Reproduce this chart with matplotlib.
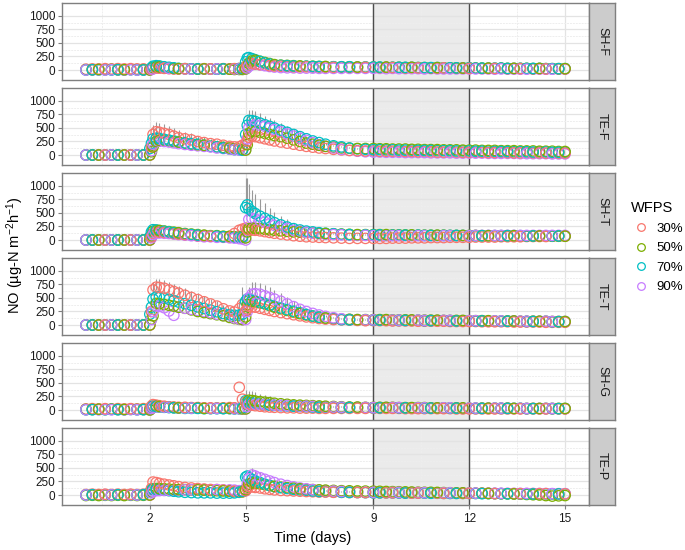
import numpy as np
import matplotlib
matplotlib.use('Agg')
import matplotlib.pyplot as plt
from matplotlib.lines import Line2D

plt.rcParams['font.family'] = ['Liberation Sans', 'DejaVu Sans']
plt.rcParams['mathtext.fontset'] = 'custom'
plt.rcParams['mathtext.rm'] = 'Liberation Sans'
plt.rcParams['mathtext.it'] = 'Liberation Sans:italic'

# sampling times (days), shared by all series
times = [0, 0.2, 0.4, 0.6, 0.8, 1.0, 1.2, 1.4, 1.6, 1.8,
         2.0, 2.05, 2.1, 2.2, 2.3, 2.45, 2.6, 2.75, 2.9, 3.1, 3.3, 3.5, 3.7, 3.9, 4.1, 4.3, 4.5, 4.65, 4.8, 4.9,
         5.0, 5.05, 5.1, 5.2, 5.3, 5.45, 5.6, 5.75, 5.9, 6.1, 6.3, 6.5, 6.7, 6.9, 7.1, 7.3, 7.5, 7.75, 8.0,
         8.25, 8.5, 8.75,
         9.0, 9.2, 9.4, 9.6, 9.8, 10.0, 10.2, 10.4, 10.6, 10.8, 11.0, 11.2, 11.4, 11.6, 11.8, 12.0,
         12.2, 12.4, 12.6, 12.8, 13.0, 13.2, 13.4, 13.6, 13.8, 14.0, 14.2, 14.4, 14.6, 14.8, 15.0]

wfps = ['30%', '50%', '70%', '90%']
facets = ['SH-F', 'TE-F', 'SH-T', 'TE-T', 'SH-G', 'TE-P']

# NO flux (ug-N m-2 h-1), one list per soil / WFPS level
shf_30 = [15, 20, 20, 25, 20, 25, 20, 25, 20, 20,
          10, 20, 30, 40, 35, 30, 25, 20, 20, 25, 20, 20, 25, 20, 20, 25, 20, 25, 30, 35,
          40, 90, 130, 120, 110, 100, 90, 80, 75, 70, 65, 60, 60, 60, 55, 55, 55, 50, 50, 50, 50, 50,
          50, 45, 50, 45, 45, 40, 45, 40, 40, 40, 35, 40, 35, 35, 35, 30, 35, 30, 30, 30, 30, 25, 30, 25,
          25, 25, 25, 20, 20, 20, 20]
shf_50 = [5, 5, 10, 5, 10, 5, 5, 10, 5, 5,
          0, 20, 40, 60, 55, 45, 40, 30, 25, 20, 20, 15, 20, 20, 15, 20, 15, 10, 10, 10,
          20, 60, 120, 170, 180, 160, 140, 120, 100, 90, 85, 80, 75, 70, 70, 65, 65, 60, 60, 60, 55, 55,
          55, 50, 55, 50, 50, 45, 50, 45, 45, 40, 45, 40, 40, 40, 35, 40, 35, 35, 35, 30, 35, 30, 30, 30,
          30, 25, 30, 25, 25, 25, 25]
shf_70 = [0, 5, 0, 5, 0, 5, 0, 5, 0, 0,
          10, 40, 70, 80, 75, 60, 50, 40, 30, 25, 20, 20, 20, 15, 15, 20, 15, 20, 25, 30,
          150, 220, 230, 210, 190, 160, 130, 110, 95, 85, 80, 75, 70, 70, 65, 65, 60, 60, 60, 60, 55, 55,
          55, 55, 50, 50, 50, 50, 50, 45, 45, 45, 45, 40, 40, 40, 40, 40, 35, 35, 35, 35, 35, 30, 30, 30,
          30, 30, 30, 25, 25, 25, 25]
shf_90 = [0, 0, 5, 0, 5, 0, 0, 5, 0, 0,
          0, 10, 20, 35, 40, 35, 30, 25, 20, 20, 15, 20, 15, 15, 20, 15, 15, 20, 20, 20,
          20, 40, 70, 100, 110, 95, 80, 65, 55, 45, 40, 40, 35, 35, 35, 30, 30, 30, 30, 30, 30, 30,
          30, 30, 25, 30, 25, 25, 25, 25, 20, 25, 20, 20, 20, 20, 20, 20, 20, 20, 20, 15, 20, 15, 15, 15,
          15, 15, 15, 15, 15, 15, 15]

tef_30 = [0, 0, 0, 0, 0, 0, 0, 0, 0, 0,
          0, 150, 380, 430, 420, 400, 380, 350, 320, 300, 280, 250, 230, 210, 200, 180, 160, 150, 150, 180,
          200, 260, 330, 350, 340, 320, 300, 280, 260, 240, 220, 200, 180, 160, 145, 130, 120, 105, 95, 85,
          80, 75,
          75, 70, 70, 70, 65, 65, 65, 60, 60, 60, 55, 55, 55, 55, 50, 50, 50, 50, 45, 45, 45, 45, 40, 40,
          40, 40, 40, 35, 35, 35, 35]
tef_50 = [0, 0, 0, 0, 0, 0, 0, 0, 0, 0,
          0, 60, 150, 250, 270, 265, 260, 250, 240, 220, 200, 190, 180, 160, 150, 140, 130, 115, 105, 100,
          90, 190, 400, 440, 435, 420, 400, 380, 360, 340, 310, 280, 250, 220, 200, 180, 160, 145, 130, 125,
          120, 120,
          120, 115, 115, 110, 110, 110, 105, 105, 100, 100, 100, 95, 95, 95, 90, 90, 90, 85, 85, 85, 80, 80,
          80, 75, 75, 75, 70, 70, 70, 65, 65]
tef_70 = [0, 0, 0, 0, 0, 0, 0, 0, 0, 0,
          120, 215, 300, 310, 305, 290, 275, 260, 240, 225, 210, 200, 180, 160, 150, 130, 110, 100, 95, 90,
          380, 550, 640, 635, 620, 590, 560, 530, 500, 460, 420, 380, 340, 300, 260, 230, 200, 170, 150, 130,
          115, 105,
          100, 100, 95, 95, 90, 90, 90, 85, 85, 85, 80, 80, 80, 75, 75, 75, 70, 70, 70, 65, 65, 65, 60, 60,
          60, 55, 55, 55, 50, 50, 50]
tef_90 = [0, 0, 0, 0, 0, 0, 0, 0, 0, 0,
          0, 80, 200, 250, 255, 250, 240, 225, 210, 195, 180, 170, 160, 150, 130, 120, 110, 100, 95, 90,
          100, 300, 500, 540, 560, 550, 530, 500, 470, 430, 390, 350, 310, 270, 230, 190, 160, 130, 105, 85,
          70, 60,
          55, 55, 50, 50, 50, 45, 45, 45, 45, 40, 40, 40, 40, 35, 35, 35, 35, 35, 30, 30, 30, 30, 30, 25,
          25, 25, 25, 25, 20, 20, 20]

sht_30 = [0, 0, 0, 0, 0, 0, 0, 0, 0, 0,
          0, 60, 120, 150, 145, 140, 130, 120, 110, 100, 90, 80, 80, 70, 70, 60, 60, 120, 180, 200,
          220, 200, 190, 185, 180, 170, 155, 140, 125, 110, 95, 80, 70, 60, 55, 50, 45, 40, 35, 30,
          30, 30,
          30, 30, 30, 35, 35, 35, 40, 40, 40, 45, 45, 45, 50, 50, 50, 50, 55, 55, 55, 55, 60, 60, 60, 60,
          65, 65, 65, 65, 70, 70, 70]
sht_50 = [0, 0, 0, 0, 0, 0, 0, 0, 0, 0,
          0, 80, 160, 180, 175, 165, 155, 145, 135, 120, 110, 100, 90, 80, 80, 70, 70, 60, 60, 60,
          40, 150, 210, 220, 215, 210, 200, 190, 180, 170, 160, 150, 145, 140, 130, 125, 120, 115, 110, 105,
          100, 100,
          100, 100, 100, 95, 95, 95, 95, 90, 90, 90, 90, 90, 85, 85, 85, 85, 85, 80, 80, 80, 80, 80,
          80, 75, 75, 75, 75, 75, 70, 70, 70]
sht_70 = [0, 0, 0, 0, 0, 0, 0, 0, 0, 0,
          60, 150, 190, 185, 175, 160, 150, 135, 125, 110, 100, 90, 80, 70, 70, 60, 60, 50, 50, 50,
          600, 650, 580, 530, 490, 440, 400, 360, 320, 280, 240, 210, 185, 165, 150, 135, 125, 115, 105, 100,
          95, 95,
          95, 95, 90, 90, 90, 90, 90, 90, 85, 85, 85, 85, 85, 85, 85, 80, 80, 80, 80, 80, 80, 80, 80, 80,
          75, 75, 75, 75, 75, 75, 75]
sht_90 = [0, 0, 0, 0, 0, 0, 0, 0, 0, 0,
          0, 40, 100, 130, 130, 125, 120, 110, 100, 90, 80, 70, 60, 60, 50, 50, 40, 35, 25, 20,
          0, 200, 380, 400, 390, 360, 330, 300, 270, 240, 210, 180, 160, 140, 125, 115, 105, 100, 95, 90,
          85, 85,
          80, 80, 80, 80, 80, 80, 80, 80, 80, 80, 80, 80, 80, 80, 80, 80, 85, 85, 85, 85, 85, 85, 85, 85,
          85, 85, 85, 85, 85, 85, 85]

tet_30 = [0, 0, 0, 0, 0, 0, 0, 0, 0, 0,
          0, 250, 650, 700, 695, 680, 650, 620, 590, 550, 510, 470, 430, 390, 350, 300, 260, 240, 300, 380,
          260, 300, 350, 340, 330, 310, 290, 270, 250, 230, 210, 190, 170, 150, 135, 120, 110, 100, 95, 90,
          85, 80,
          80, 80, 80, 75, 75, 75, 75, 70, 70, 70, 70, 70, 65, 65, 65, 65, 65, 60, 60, 60, 60, 60, 55, 55,
          55, 55, 55, 50, 50, 50, 50]
tet_50 = [0, 0, 0, 0, 0, 0, 0, 0, 0, 0,
          0, 110, 170, 400, 395, 380, 365, 350, 330, 310, 280, 250, 230, 210, 190, 170, 140, 120, 105, 100,
          150, 380, 450, 440, 430, 410, 390, 360, 330, 300, 270, 240, 210, 185, 165, 145, 130, 120, 110, 105,
          100, 100,
          100, 100, 100, 95, 95, 95, 95, 90, 90, 90, 90, 85, 85, 85, 85, 80, 80, 80, 80, 75, 75, 75, 75, 70,
          70, 70, 70, 70, 65, 65, 65]
tet_70 = [0, 0, 0, 0, 0, 0, 0, 0, 0, 0,
          200, 330, 480, 520, 510, 495, 475, 450, 425, 395, 365, 335, 305, 275, 245, 215, 190, 180, 185, 200,
          440, 480, 470, 455, 440, 420, 395, 370, 345, 315, 285, 255, 225, 195, 165, 145, 125, 110, 100, 95,
          90, 90,
          90, 90, 90, 85, 85, 85, 85, 85, 80, 80, 80, 80, 80, 75, 75, 75, 75, 75, 70, 70, 70, 70, 70, 65,
          65, 65, 65, 65, 60, 60, 60]
tet_90 = [0, 0, 0, 0, 0, 0, 0, 0, 0, 0,
          0, 100, 250, 350, 345, 320, 260, 180, 330, 310, 290, 270, 250, 230, 200, 180, 150, 130, 110, 100,
          100, 250, 500, 570, 580, 570, 540, 510, 480, 440, 390, 340, 290, 250, 215, 185, 160, 135, 115, 105,
          100, 95,
          95, 95, 95, 90, 90, 90, 90, 90, 85, 85, 85, 85, 85, 80, 80, 80, 80, 80, 75, 75, 75, 75, 75, 70,
          70, 70, 70, 70, 65, 65, 65]

shg_30 = [20, 25, 20, 25, 20, 25, 20, 25, 20, 25,
          30, 70, 100, 90, 80, 70, 60, 55, 50, 50, 45, 45, 40, 40, 40, 40, 45, 40, 420, 200,
          150, 120, 100, 90, 80, 70, 60, 55, 50, 45, 40, 40, 35, 35, 35, 30, 30, 30, 30, 30,
          30, 30,
          30, 30, 30, 30, 30, 25, 25, 25, 25, 25, 25, 25, 25, 20, 20, 20, 20, 20, 20, 20, 20, 20, 20, 20,
          20, 20, 20, 20, 20, 20, 20]
shg_50 = [10, 10, 15, 10, 15, 10, 10, 15, 10, 10,
          0, 40, 60, 70, 65, 55, 50, 45, 40, 40, 35, 35, 30, 30, 30, 30, 30, 30, 25, 20,
          20, 100, 180, 175, 165, 155, 145, 135, 125, 115, 105, 95, 90, 85, 80, 75, 70, 65, 60, 55,
          55, 50,
          50, 50, 50, 50, 45, 45, 45, 45, 45, 40, 40, 40, 40, 40, 40, 35, 35, 35, 35, 35, 35, 35, 30, 30,
          30, 30, 30, 30, 30, 30, 30]
shg_70 = [5, 5, 10, 5, 10, 5, 5, 10, 5, 5,
          10, 50, 70, 65, 55, 50, 45, 40, 35, 30, 30, 30, 25, 25, 25, 25, 25, 20, 25, 40,
          170, 150, 140, 130, 120, 110, 100, 90, 85, 80, 75, 70, 65, 60, 55, 50, 50, 45, 45, 45,
          40, 40,
          40, 40, 40, 40, 40, 40, 35, 35, 35, 35, 35, 35, 35, 35, 30, 30, 30, 30, 30, 30, 30, 30, 30, 30,
          25, 25, 25, 25, 25, 25, 25]
shg_90 = [5, 10, 5, 10, 5, 10, 5, 10, 5, 10,
          0, 30, 50, 60, 58, 55, 50, 45, 40, 40, 35, 35, 35, 30, 30, 30, 30, 25, 25, 20,
          20, 60, 100, 110, 108, 104, 100, 95, 90, 85, 80, 76, 72, 70, 66, 62, 58, 55, 52, 50,
          48, 46,
          45, 45, 45, 45, 45, 40, 40, 40, 40, 40, 40, 40, 40, 40, 35, 35, 35, 35, 35, 35, 35, 35, 30, 30,
          30, 30, 30, 30, 30, 25, 25]

tep_30 = [10, 15, 10, 15, 10, 15, 10, 15, 10, 15,
          0, 120, 240, 230, 215, 200, 185, 170, 155, 140, 130, 120, 110, 100, 100, 90, 80, 70, 65, 60,
          80, 120, 160, 150, 140, 130, 115, 105, 95, 85, 80, 75, 70, 65, 60, 55, 55, 50, 50, 45,
          45, 45,
          40, 40, 40, 40, 40, 35, 35, 35, 35, 35, 35, 30, 30, 30, 30, 30, 30, 30, 30, 25, 25, 25, 25, 25,
          25, 25, 25, 25, 20, 20, 20]
tep_50 = [-10, -5, -10, -5, -10, -5, -10, -5, -10, -5,
          0, 60, 110, 120, 118, 115, 110, 105, 100, 100, 95, 95, 90, 85, 80, 75, 70, 65, 60, 60,
          100, 150, 200, 230, 220, 205, 190, 175, 160, 145, 135, 125, 115, 105, 100, 95, 90, 85, 80, 78,
          75, 72,
          70, 68, 65, 62, 60, 58, 55, 52, 50, 50, 48, 45, 42, 40, 40, 38, 35, 32, 30, 28, 25, 22, 20, 15,
          10, 5, 0, -10, -20, -15, -10]
tep_70 = [0, 5, 0, 5, 0, 5, 0, 5, 0, 5,
          50, 100, 110, 105, 100, 90, 80, 70, 60, 50, 45, 40, 40, 40, 35, 35, 35, 40, 50, 70,
          330, 350, 320, 290, 260, 230, 200, 175, 155, 135, 120, 105, 95, 85, 75, 65, 60, 55, 50, 48,
          45, 42,
          40, 40, 40, 38, 38, 35, 35, 35, 35, 32, 32, 30, 30, 30, 30, 28, 28, 25, 25, 25, 25, 22, 22, 22,
          20, 20, 20, 20, 20, 20, 20]
tep_90 = [0, 5, 0, 5, 0, 5, 0, 5, 0, 5,
          0, 40, 70, 80, 82, 84, 86, 90, 92, 95, 98, 100, 100, 100, 100, 95, 95, 90, 80, 70,
          80, 200, 300, 370, 350, 320, 290, 260, 230, 200, 175, 150, 130, 115, 100, 90, 80, 72, 65, 60,
          56, 52,
          50, 50, 50, 48, 48, 45, 45, 45, 43, 42, 40, 40, 40, 38, 38, 36, 35, 35, 34, 33, 32, 31, 30, 30,
          30, 28, 28, 27, 26, 25, 25]

# standard errors, only where bars are visible (first 10 + 20 points are days 0-4.9)
zero_err = [0] * 83
shf_err70 = [0] * 30 + [60, 70, 50, 35, 25, 20, 15, 10, 10] + [0] * 44
tef_err30 = [0] * 10 + [0, 60, 170, 180, 175, 170, 160, 150, 140, 130, 120, 110, 100, 90, 80, 70, 60, 50,
                        40, 30] + [0] * 53
tef_err70 = [0] * 30 + [100, 180, 200, 195, 190, 180, 170, 160, 150, 135, 120, 100, 80, 60, 45, 35, 25,
                        20, 15, 10, 10, 10] + [0] * 31
sht_err50 = [0] * 10 + [0, 30, 50, 50, 45, 40, 30, 20, 15, 10] + [0] * 63
sht_err70 = [0] * 30 + [550, 500, 450, 400, 360, 320, 280, 240, 200, 170, 140, 110, 85, 65, 50, 40, 30,
                        20, 15, 10, 10, 10] + [0] * 31
tet_err30 = [0] * 10 + [0, 80, 150, 160, 155, 150, 145, 140, 135, 130, 125, 115, 105, 95, 85, 75, 65, 55,
                        150, 320] + [0] * 53
tet_err90 = [0] * 30 + [0, 100, 200, 230, 225, 215, 200, 185, 170, 150, 125, 100, 80, 60, 45, 35, 25,
                        20, 15, 10, 10, 10] + [0] * 31
shg_err50 = [0] * 30 + [0, 120, 180, 170, 160, 145, 130, 115, 100, 85, 70, 55, 40, 30, 20, 15, 10, 10,
                        5, 5, 5, 5] + [0] * 31
shg_err70 = [0] * 30 + [200, 60, 40, 20, 10] + [0] * 48
tep_err90 = [0] * 30 + [0, 80, 150, 130, 115, 100, 85, 70, 55, 45, 35, 25, 20, 15, 10, 5, 5, 5, 5, 5,
                        5, 5] + [0] * 31

series = {
    'SH-F': [shf_30, shf_50, shf_70, shf_90],
    'TE-F': [tef_30, tef_50, tef_70, tef_90],
    'SH-T': [sht_30, sht_50, sht_70, sht_90],
    'TE-T': [tet_30, tet_50, tet_70, tet_90],
    'SH-G': [shg_30, shg_50, shg_70, shg_90],
    'TE-P': [tep_30, tep_50, tep_70, tep_90],
}
errors = {
    'SH-F': [zero_err, zero_err, shf_err70, zero_err],
    'TE-F': [tef_err30, zero_err, tef_err70, zero_err],
    'SH-T': [zero_err, sht_err50, sht_err70, zero_err],
    'TE-T': [tet_err30, zero_err, zero_err, tet_err90],
    'SH-G': [zero_err, shg_err50, shg_err70, zero_err],
    'TE-P': [zero_err, zero_err, zero_err, tep_err90],
}

colors = ['#F8766D', '#7CAE00', '#00BFC4', '#C77CFF']

W, H = 685, 550
fig = plt.figure(figsize=(W / 100, H / 100), dpi=100)


def box(l, t, w, h):
    return [l / W, 1 - (t + h) / H, w / W, h / H]


t = np.array(times)
n = len(times)
tops = [3, 88, 173, 258, 343, 428]
# draw order: time by time, and the level on top rotates from one time to the next
tidx = np.tile(np.arange(n), 4)
sidx = np.repeat(np.arange(4), n)
order = np.argsort(tidx * 4 + (sidx + tidx) % 4)

for i, name in enumerate(facets):
    ax = fig.add_axes(box(62, tops[i], 527, 77))
    ax.axvspan(9, 12, color='#EBEBEB', zorder=0.5, lw=0)
    ax.set_xlim(-0.75, 15.75)
    ax.set_ylim(-185, 1240)
    ax.set_xticks([2, 5, 9, 12, 15])
    ax.set_xticks([0.5, 3.5, 7, 10.5, 13.5], minor=True)
    ax.set_yticks([0, 250, 500, 750, 1000])
    ax.set_yticks([125, 375, 625, 875], minor=True)
    ax.grid(which='major', color='#E3E3E3', lw=0.9, zorder=0)
    ax.grid(which='minor', color='#EEEEEE', lw=0.7, ls=(0, (2, 1)), zorder=0)
    ax.set_axisbelow(True)
    ax.axvline(9, color='#4D4D4D', lw=1, zorder=1)
    ax.axvline(12, color='#4D4D4D', lw=1, zorder=1)
    for k in range(4):
        y = np.array(series[name][k])
        e = np.array(errors[name][k])
        m = e > 0
        if m.any():
            ax.vlines(t[m], y[m] - e[m] * 0.3, y[m] + e[m], color='#999999', lw=0.8, zorder=2)
    xs = np.tile(t, 4)
    ys = np.concatenate([series[name][k] for k in range(4)])
    cs = np.repeat(np.array(colors), n)
    ax.scatter(xs[order], ys[order], s=56, facecolors='none', edgecolors=cs[order],
               linewidths=0.9, zorder=3)
    for s in ax.spines.values():
        s.set_color('#7F7F7F')
        s.set_linewidth(1)
    ax.tick_params(axis='y', which='major', length=3, color='#7F7F7F', labelsize=8.5,
                   labelcolor='#1A1A1A', pad=2)
    ax.tick_params(which='minor', length=0)
    if i < 5:
        ax.tick_params(axis='x', which='major', length=0, labelbottom=False)
    else:
        ax.tick_params(axis='x', which='major', length=3, color='#7F7F7F', labelsize=8.5,
                       labelcolor='#1A1A1A', pad=3)
    # facet strip
    sax = fig.add_axes(box(589, tops[i], 26, 77))
    sax.set_facecolor('#CCCCCC')
    sax.set_xticks([])
    sax.set_yticks([])
    for s in sax.spines.values():
        s.set_color('#7F7F7F')
        s.set_linewidth(1)
    sax.text(0.5, 0.5, name, rotation=-90, ha='center', va='center', fontsize=9,
             color='#1A1A1A', transform=sax.transAxes)

fig.text(313 / W, 1 - 538 / H, 'Time (days)', ha='center', va='center', fontsize=10.5)
fig.text(15 / W, 1 - 255 / H, 'NO (µg-N m$^{-2}$h$^{-1}$)', rotation=90,
         ha='center', va='center', fontsize=10.5)

handles = [Line2D([], [], ls='none', marker='o', mfc='none', mec=c, ms=5.5, mew=0.9)
           for c in colors]
leg = fig.legend(handles, wfps, title='WFPS', loc='upper left',
                 bbox_to_anchor=(626 / W, 1 - 196 / H), frameon=False, fontsize=9.5,
                 title_fontsize=10.5, handlelength=1.4, handletextpad=0.5,
                 labelspacing=0.55, borderaxespad=0)
leg._legend_box.align = 'left'

fig.savefig('out.png', dpi=100)
